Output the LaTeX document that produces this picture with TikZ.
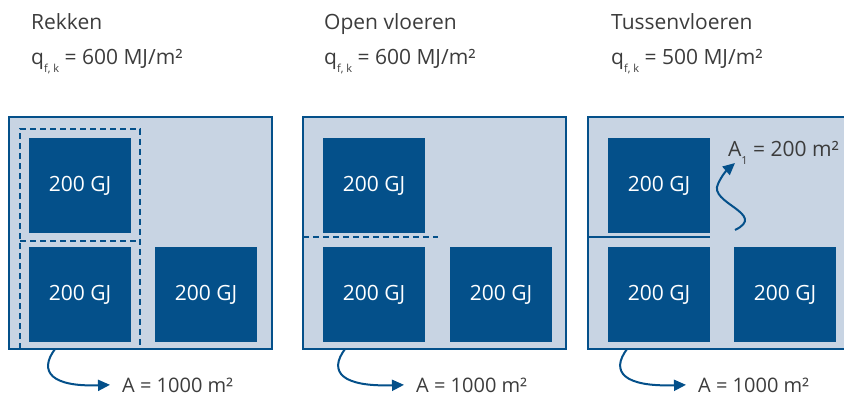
\documentclass[tikz,border=0pt]{standalone}
\usepackage{fontspec}
\setmainfont{Open Sans}
\usetikzlibrary{arrows.meta}

\definecolor{donkerblauw}{HTML}{04508A}
\definecolor{lichtblauw}{HTML}{C8D4E3}
\definecolor{tekstgrijs}{HTML}{3C3C3C}

\newcommand{\tekstfont}{\fontsize{21}{25}\selectfont}
\newcommand{\sub}[1]{\raisebox{-8pt}{\fontsize{11}{11}\selectfont #1}}

\tikzset{
	zone/.style={draw=donkerblauw, line width=2.5pt, fill=lichtblauw, minimum width=263pt, minimum height=232pt, inner sep=0pt},
	blok/.style={fill=donkerblauw, text=white, minimum width=102pt, minimum height=95pt, inner sep=0pt, font=\tekstfont},
	tekst/.style={text=tekstgrijs, anchor=base west, inner sep=0pt, font=\tekstfont},
	opp/.style={tekst, font=\fontsize{20}{24}\selectfont},
	scheiding/.style={donkerblauw, line width=2pt, dash pattern=on 6pt off 4pt},
	pijl/.style={donkerblauw, line width=2pt, -{Triangle[length=12pt,width=11pt]}}
}

\begin{document}
\begin{tikzpicture}[x=1pt, y=-1pt]
	
	\clip (0,0) rectangle (844,398);
	
	% titels
	\node[tekst] (titelA) at (31,30)  {Rekken};
	\node[tekst] (qA)     at (31,65)  {q\sub{f, k} = 600 MJ/m²};
	\node[tekst] (titelB) at (324,30) {Open vloeren};
	\node[tekst] (qB)     at (324,65) {q\sub{f, k} = 600 MJ/m²};
	\node[tekst] (titelC) at (611,30) {Tussenvloeren};
	\node[tekst] (qC)     at (611,65) {q\sub{f, k} = 500 MJ/m²};
	
	% vakken
	\node[zone] (zoneA) at (140.5,233) {};
	\node[zone] (zoneB) at (434.5,233) {};
	\node[zone, minimum width=272pt] (zoneC) at (724,233) {};
	
	% rekken
	\draw[scheiding] (20,349) -- (20,129) -- (140,129) -- (140,349);
	\draw[scheiding] (20,241) -- (140,241);
	\node[blok] (a1) at (80,185.5)  {200 GJ};
	\node[blok] (a2) at (80,294.5)  {200 GJ};
	\node[blok] (a3) at (206,294.5) {200 GJ};
	
	% open vloeren
	\draw[scheiding] (303,237) -- (438,237);
	\node[blok] (b1) at (374,185.5) {200 GJ};
	\node[blok] (b2) at (374,294.5) {200 GJ};
	\node[blok] (b3) at (501,294.5) {200 GJ};
	
	% tussenvloeren
	\draw[donkerblauw, line width=2pt] (588,237) -- (710,237);
	\node[blok] (c1) at (659,185.5) {200 GJ};
	\node[blok] (c2) at (659,294.5) {200 GJ};
	\node[blok] (c3) at (785,294.5) {200 GJ};
	
	% oppervlaktes
	\node[opp] (areaA) at (122,392) {A = 1000 m²};
	\node[opp] (areaB) at (416,392) {A = 1000 m²};
	\node[opp] (areaC) at (698,392) {A = 1000 m²};
	\node[tekst] (areaC1) at (728,157) {A\sub{1} = 200 m²};
	
	\coordinate (startA) at (55,349);
	\coordinate (startB) at (345,349);
	\coordinate (startC) at (627,349);
	\coordinate (golfC)  at (735,230);
	\coordinate (topC)   at (735,163);
	
	\draw[pijl] (startA) .. controls (38,372) and (52,387) .. ([xshift=-12pt]areaA.west);
	\draw[pijl] (startB) .. controls (328,372) and (342,387) .. ([xshift=-12pt]areaB.west);
	\draw[pijl] (startC) .. controls (610,372) and (624,387) .. ([xshift=-12pt]areaC.west);
	\draw[pijl] (golfC) .. controls (768,214) and (708,203) .. (718,184) .. controls (722,175) and (727,170) .. (topC);
	
\end{tikzpicture}
\end{document}
